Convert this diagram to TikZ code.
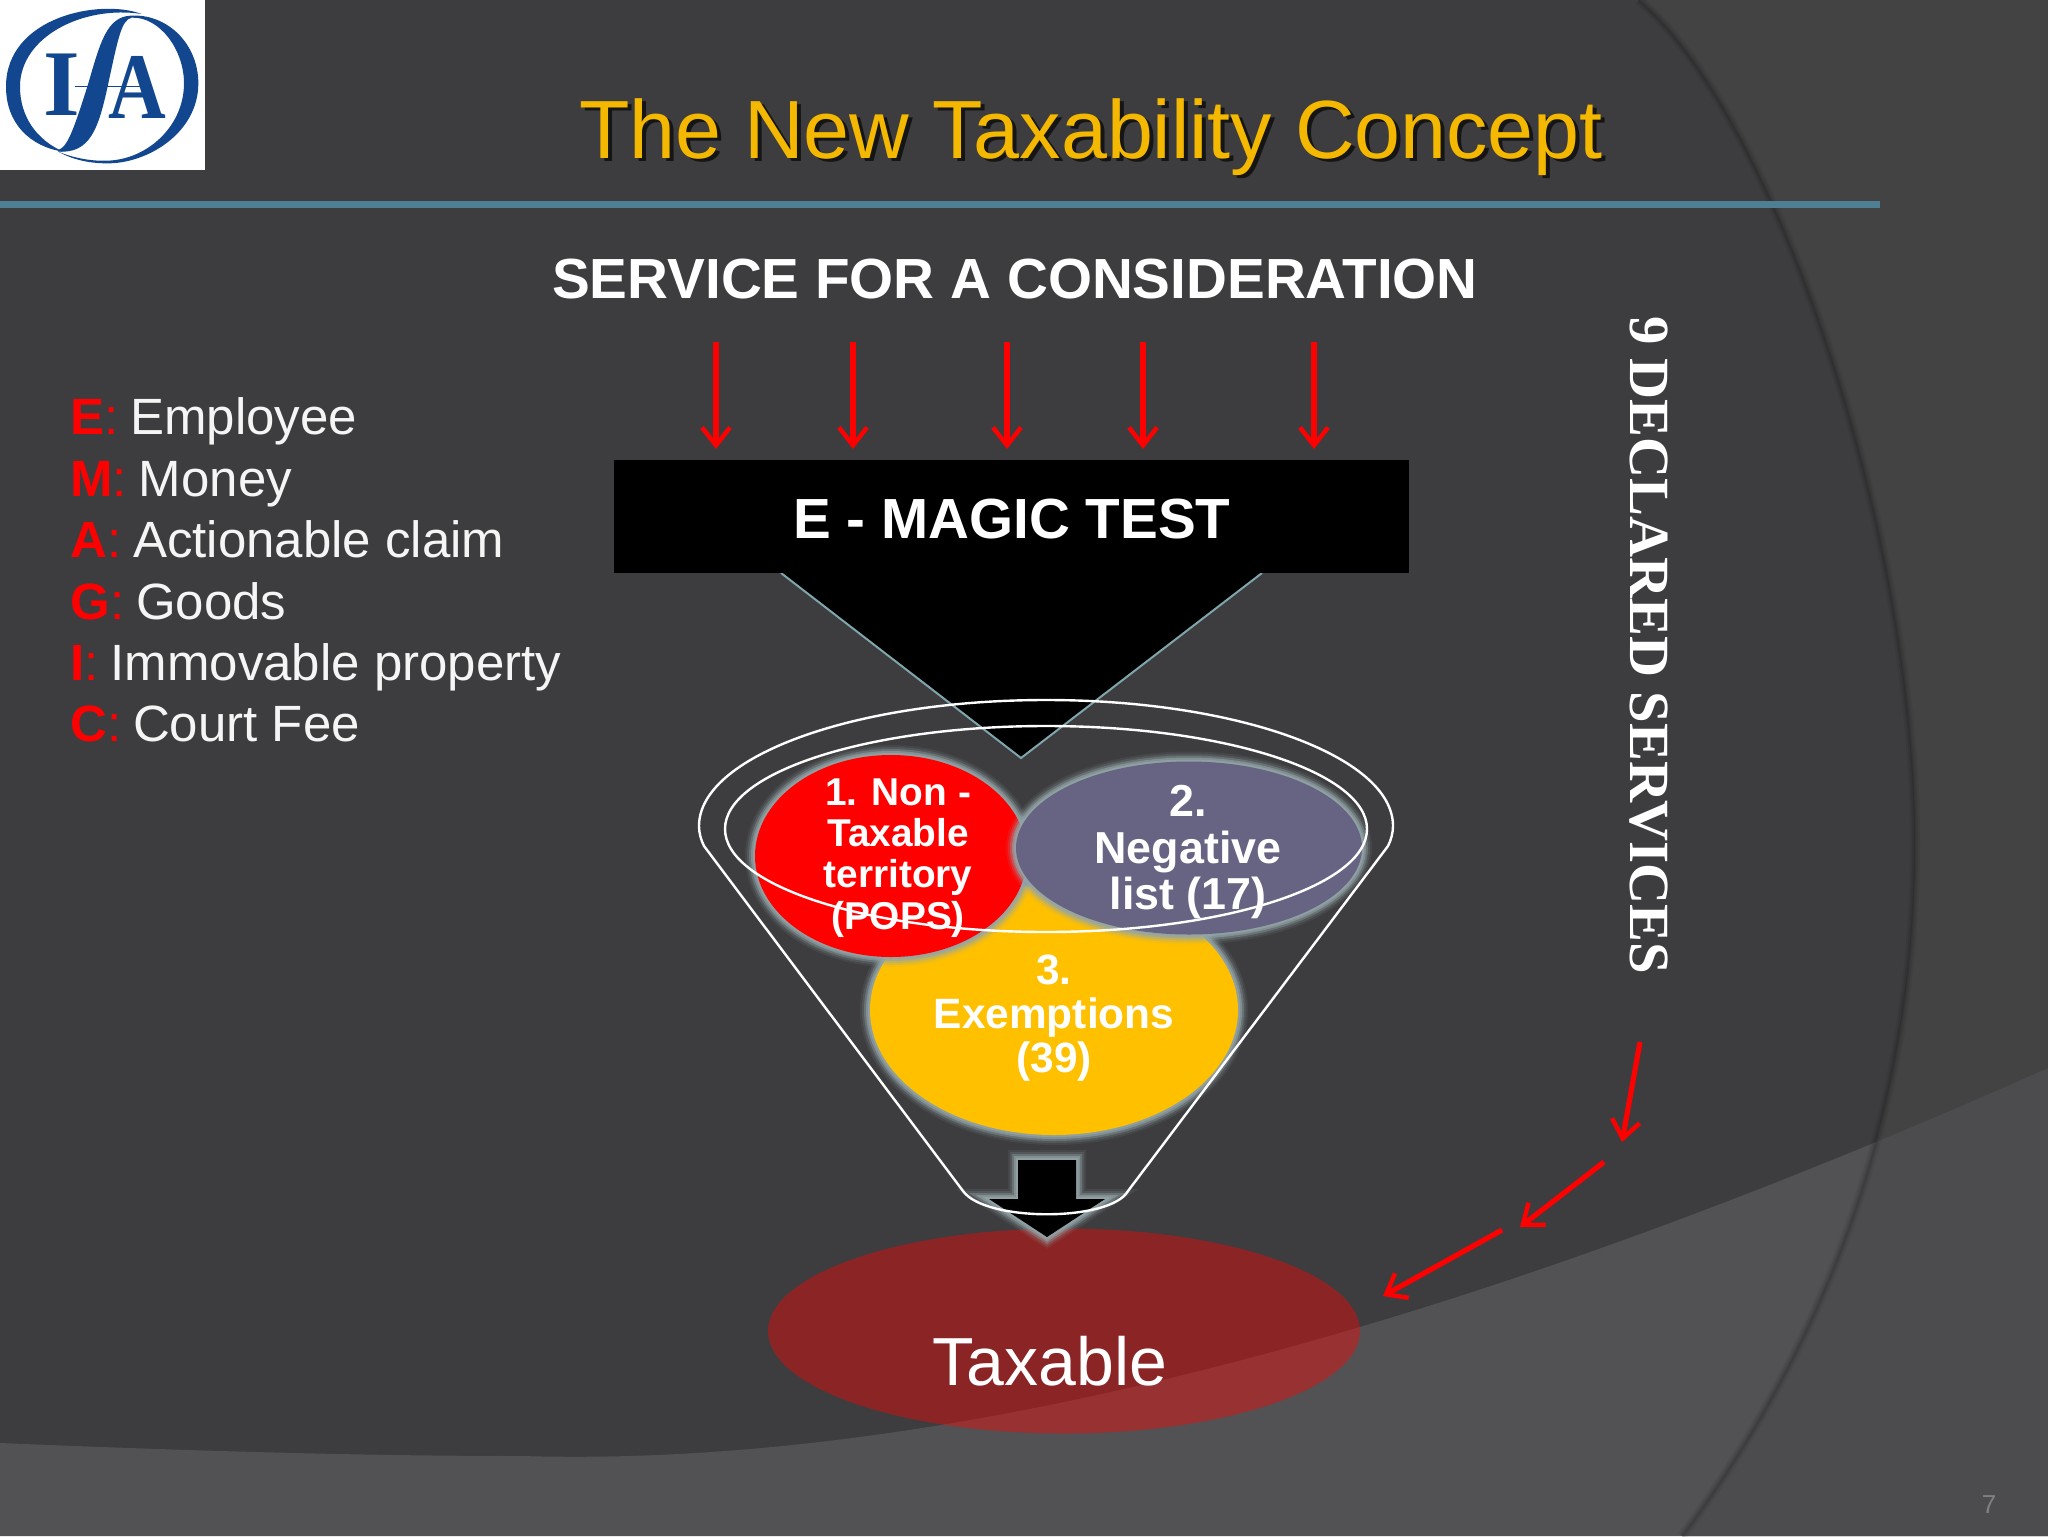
\documentclass[tikz,border=0pt]{standalone}
\usepackage{fontspec}
\setmainfont{Liberation Sans}
\newfontfamily\serifface{Liberation Serif}
\usetikzlibrary{arrows.meta,shapes.geometric}
\definecolor{bgmain}{HTML}{3D3D3F}
\definecolor{bgright}{HTML}{434343}
\definecolor{bgband}{HTML}{525254}
\definecolor{rulecol}{HTML}{4F7F92}
\definecolor{titlecol}{HTML}{F5B800}
\definecolor{edgecol}{HTML}{7FA6AC}
\definecolor{glowcol}{HTML}{93A5A8}
\definecolor{logoblue}{HTML}{12478F}
\definecolor{yellowfill}{HTML}{FFC000}
\definecolor{slatefill}{HTML}{666482}
\definecolor{listtext}{HTML}{F5F5F5}
\newcommand{\archpath}{(1639,0) .. controls (1770,110) and (1915,520) .. (1915,843) .. controls (1915,1120) and (1820,1350) .. (1682,1536)}
\newcommand{\bandpath}{(0,1443) .. controls (170,1450) and (350,1456) .. (522,1456) .. controls (1000,1470) and (1550,1290) .. (2048,1068)}
\newcommand{\redkey}[1]{{\color{red}\textbf{#1}:}\hspace{-1.2pt}}
\tikzset{
  x=0.5pt,y=-0.5pt,
  glowy/.style={
    preaction={draw=glowcol,line width=10pt,draw opacity=.10},
    preaction={draw=glowcol,line width=8pt,draw opacity=.18},
    preaction={draw=glowcol,line width=6pt,draw opacity=.35},
    preaction={draw=glowcol,line width=4pt,draw opacity=.6},
    preaction={draw=glowcol,line width=2pt,draw opacity=.8}},
  bubble/.style={ellipse,inner sep=0pt,glowy},
  bubbletext/.style={text=white,align=center,font=\bfseries\fontsize{#1}{#1}\selectfont},
  redarrow/.style={draw=red,line width=2.6pt,-{Straight Barb[length=9pt,width=14pt,line width=2.2pt]}},
  funnelline/.style={draw=white,line width=1.2pt},
  listline/.style={anchor=base west,text=listtext,font=\fontsize{25.5}{30}\selectfont,inner sep=0pt},
}
\begin{document}
\begin{tikzpicture}
\useasboundingbox (0,0) rectangle (2048,1536);
% background
\fill[bgmain] (0,0) rectangle (2048,1536);
\fill[bgright] \archpath -- (2048,1536) -- (2048,0) -- cycle;
\fill[bgband] \bandpath -- (2048,1536) -- (0,1536) -- cycle;
\begin{scope}
\clip \bandpath -- (2048,1536) -- (0,1536) -- cycle;
\fill[black,fill opacity=.07] \archpath -- (2048,1536) -- (2048,0) -- cycle;
\end{scope}
\draw[black,line width=5pt,draw opacity=.05] \archpath;
\draw[black,line width=3pt,draw opacity=.07] \archpath;
\draw[black,line width=1.2pt,draw opacity=.08] \archpath;
% logo
\fill[white] (0,0) rectangle (205,170);
\begin{scope}[x=0.16667pt,y=-0.16667pt]
\fill[logoblue] (425,42) .. controls (300,-5) and (18,50) .. (18,260) .. controls (18,370) and (90,440) .. (190,455) .. controls (110,420) and (60,350) .. (60,260) .. controls (60,110) and (250,15) .. (425,42) -- cycle;
\fill[logoblue] (175,450) .. controls (200,440) and (215,410) .. (265,250) .. controls (300,130) and (320,50) .. (392,47) .. controls (500,40) and (595,130) .. (595,250) .. controls (595,400) and (440,492) .. (320,490) .. controls (260,490) and (210,475) .. (175,455) .. controls (215,472) and (270,484) .. (320,482) .. controls (440,480) and (552,380) .. (552,250) .. controls (552,150) and (480,50) .. (395,53) .. controls (365,60) and (355,110) .. (325,250) .. controls (295,390) and (270,460) .. (175,455) -- cycle;
\draw[logoblue,line width=.5pt] (225,258) -- (425,258);
\node[text=logoblue,inner sep=0pt,anchor=base,font=\serifface\bfseries\fontsize{47}{47}\selectfont] (logoI) at (186,345) {I};
\node[text=logoblue,inner sep=0pt,anchor=base,xscale=.85,font=\serifface\bfseries\fontsize{47}{47}\selectfont] (logoA) at (412,355) {A};
\end{scope}
% rule
\fill[rulecol] (0,201) rectangle (1880,208);
% title
\node[anchor=base,inner sep=0pt,text=black,text opacity=.65,font=\fontsize{41.3}{44}\selectfont] (titleshadow) at (1095,162) {The New Taxability Concept};
\node[anchor=base,inner sep=0pt,text=titlecol,font=\fontsize{41.3}{44}\selectfont] (title) at (1091,158) {The New Taxability Concept};
\node[inner sep=0pt,anchor=base,text=white,font=\bfseries\fontsize{28.3}{30}\selectfont] (service) at (1015,298) {SERVICE FOR A CONSIDERATION};
% funnel top: triangle + box
\path[fill=black] (781,573) -- (1262,573) -- (1021,758) -- cycle;
\draw[edgecol,line width=1pt] (781,573) -- (1021,758) -- (1262,573);
\node[fill=black,minimum width=397.5pt,minimum height=56.5pt,inner sep=0pt] (magic) at (1011.5,516.5) {};
\node[inner sep=0pt,text=white,font=\bfseries\fontsize{28.3}{30}\selectfont] (magict) at (1012,519) {E - MAGIC TEST};
% input arrows
\coordinate (a1s) at (716,342); \coordinate (a1e) at (716,449);
\coordinate (a2s) at (853,342); \coordinate (a2e) at (853,449);
\coordinate (a3s) at (1007,342); \coordinate (a3e) at (1007,449);
\coordinate (a4s) at (1143,342); \coordinate (a4e) at (1143,449);
\coordinate (a5s) at (1314,342); \coordinate (a5e) at (1314,449);
\draw[redarrow] (a1s) -- (a1e);
\draw[redarrow] (a2s) -- (a2e);
\draw[redarrow] (a3s) -- (a3e);
\draw[redarrow] (a4s) -- (a4e);
\draw[redarrow] (a5s) -- (a5e);
% list
\node[listline] (l1) at (70,434) {\redkey{E} Employee};
\node[listline] (l2) at (70,496) {\redkey{M} Money};
\node[listline] (l3) at (70,557) {\redkey{A} Actionable claim};
\node[listline] (l4) at (70,619) {\redkey{G} Goods};
\node[listline] (l5) at (70,680) {\redkey{I} Immovable property};
\node[listline] (l6) at (70,741) {\redkey{C} Court Fee};
% taxable
\node[ellipse,fill=red,fill opacity=.4,inner sep=0pt,minimum width=296pt,minimum height=102.5pt] (taxable) at (1064,1331) {};
\node[anchor=base,inner sep=0pt,text=white,font=\fontsize{34}{36}\selectfont] (taxablet) at (1050,1385) {Taxable};
% bubbles
\node[bubble,fill=yellowfill,minimum width=184pt,minimum height=125pt] (exempt) at (1054,1010) {};
\node[bubble,fill=red,minimum width=136pt,minimum height=101pt] (nontax) at (891,856) {};
\node[bubble,fill=slatefill,minimum width=173pt,minimum height=86.5pt] (neg) at (1189,848) {};
\node[bubbletext=19.4] (nontaxt) at (898,858) {1. Non -\\[1.2pt]Taxable\\[1.2pt]territory\\[1.2pt](POPS)};
\node[bubbletext=22.4] (negt) at (1188,852) {2.\\[.8pt]Negative\\[.8pt]list (17)};
\node[bubbletext=21.2] (exemptt) at (1054,1018) {3.\\[1pt]Exemptions\\[1pt](39)};
% block arrow
\path[fill=black,glowy] (1018,1160) -- (1076,1160) -- (1076,1199) -- (1105,1199) -- (1047,1237) -- (989,1199) -- (1018,1199) -- cycle;
% funnel
\draw[funnelline,line join=round] (704,846) .. controls (701,840) and (699,833) .. (699,826) arc[start angle=180,end angle=0,x radius=173.5pt,y radius=63pt] .. controls (1393,833) and (1391,840) .. (1388,846) -- (1128,1191) .. controls (1110,1222) and (985,1222) .. (963,1191) -- cycle;
\node[ellipse,funnelline,inner sep=0pt,minimum width=321pt,minimum height=103pt] (innerrim) at (1046,829) {};
% declared
\node[rotate=-90,inner sep=0pt,text=white,font=\serifface\bfseries\fontsize{28.4}{30}\selectfont] (declared) at (1649,645) {9 DECLARED SERVICES};
\coordinate (d1s) at (1640,1042); \coordinate (d1e) at (1622,1142);
\coordinate (d2s) at (1604,1162); \coordinate (d2e) at (1520,1227);
\coordinate (d3s) at (1502,1230); \coordinate (d3e) at (1383,1296);
\draw[redarrow] (d1s) -- (d1e);
\draw[redarrow] (d2s) -- (d2e);
\draw[redarrow] (d3s) -- (d3e);
% page number
\node[inner sep=0pt,text=gray,font=\fontsize{13}{14}\selectfont] (pg) at (1989,1505) {7};
\end{tikzpicture}
\end{document}
